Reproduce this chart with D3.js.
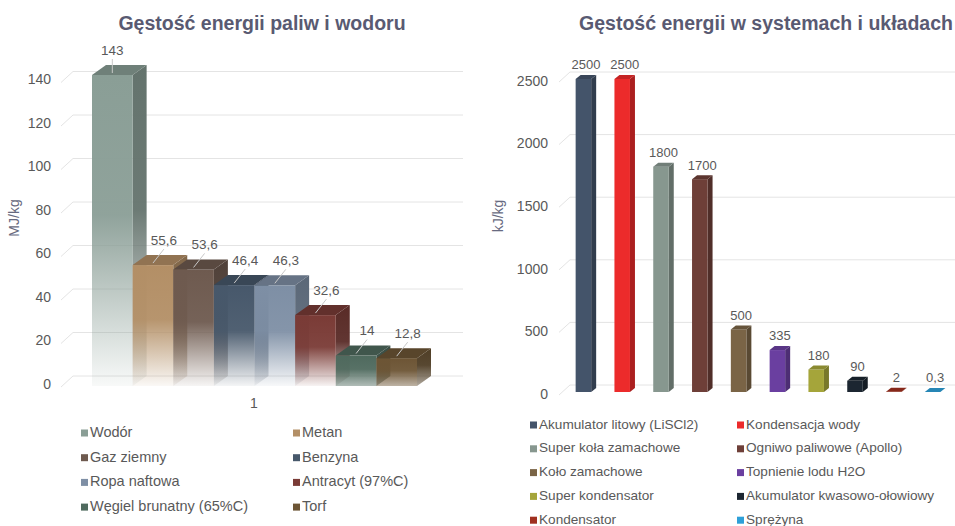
<!DOCTYPE html>
<html>
<head>
<meta charset="utf-8">
<script src="https://cdn.jsdelivr.net/npm/d3@7"></script>
<style>
body { margin: 0; background: #fff; }
svg text { font-family: 'Liberation Sans', Arial, sans-serif; }
</style>
</head>
<body>
<svg id="chartSVG"></svg>
<script>
// left chart: fuels (MJ/kg)
var fuelNames = ['Wodór', 'Metan', 'Gaz ziemny', 'Benzyna', 'Ropa naftowa', 'Antracyt (97%C)', 'Węgiel brunatny (65%C)', 'Torf']
var fuelValues = [143, 55.6, 53.6, 46.4, 46.3, 32.6, 14, 12.8]
var fuelColors = ['#8a9e96', '#b38f66', '#6e5a4f', '#47586b', '#7e8fa5', '#7a3b36', '#4f6a5e', '#6d5535']
var fuelTicks = [0, 20, 40, 60, 80, 100, 120, 140]
var fuelCategory = '1'

// right chart: systems (kJ/kg)
var systemNames = ['Akumulator litowy (LiSCl2)', 'Kondensacja wody', 'Super koła zamachowe', 'Ogniwo paliwowe (Apollo)',
    'Koło zamachowe', 'Topnienie lodu H2O', 'Super kondensator', 'Akumulator kwasowo-ołowiowy', 'Kondensator', 'Sprężyna']
var systemValues = [2500, 2500, 1800, 1700, 500, 335, 180, 90, 2, 0.3]
var systemColors = ['#44546a', '#ec2b2b', '#87978f', '#6e3f38', '#7a6446', '#6a3fa0', '#a5a53a', '#1c2631', '#a0301f', '#2ea0d8']
var systemTicks = [0, 500, 1000, 1500, 2000, 2500]

var width = 955, height = 526
var titleColor = '#595a72'
var textColor = '#595959'
var gridColor = '#e4e4e4'

function fmt(v) { return String(v).replace('.', ',') }

var svg = d3.select('#chartSVG').attr('width', width).attr('height', height)
var defs = svg.append('defs')

// ---------- left chart ----------
var leftLayer = svg.append('g')
var yLeft = d3.scaleLinear().domain([0, 143]).range([386, 75])
var xLeft = d3.scaleBand().domain(fuelNames).range([92, 417]).padding(0)
var leftDepth = { dx: 14, dy: 10 }

leftLayer.append('text')
    .attr('x', 262).attr('y', 30)
    .attr('text-anchor', 'middle')
    .style('font-size', '19.5px').style('font-weight', 'bold')
    .attr('fill', titleColor)
    .text('Gęstość energii paliw i wodoru')

fuelTicks.forEach(function (t) {
    var y = yLeft(t)
    leftLayer.append('line')
        .attr('x1', 73).attr('x2', 463).attr('y1', y - 10).attr('y2', y - 10)
        .attr('stroke', gridColor)
    leftLayer.append('line')
        .attr('x1', 61).attr('x2', 73).attr('y1', y + 1).attr('y2', y - 10)
        .attr('stroke', gridColor)
    leftLayer.append('text')
        .attr('x', 51).attr('y', y - 1)
        .attr('text-anchor', 'end').attr('dominant-baseline', 'middle')
        .style('font-size', '14px').attr('fill', textColor)
        .text(t)
})

leftLayer.append('text')
    .attr('transform', 'translate(19, 218) rotate(-90)')
    .attr('text-anchor', 'middle')
    .style('font-size', '14px').attr('fill', '#676a80')
    .text('MJ/kg')

leftLayer.append('text')
    .attr('x', 254).attr('y', 408)
    .attr('text-anchor', 'middle')
    .style('font-size', '14px').attr('fill', textColor)
    .text(fuelCategory)

var fadeEnd = d3.scaleLinear().domain([30, 70]).range([0.45, 0.06]).clamp(true)

fuelValues.forEach(function (v, i) {
    var x = xLeft(fuelNames[i])
    var w = xLeft.bandwidth()
    var top = yLeft(v)
    var bottom = yLeft(0)
    var h = bottom - top
    var base = d3.color(fuelColors[i])
    var grads = [['front', base], ['side', base.darker(0.9)]]
    grads.forEach(function (g) {
        var lg = defs.append('linearGradient')
            .attr('id', 'fade-' + g[0] + i)
            .attr('x1', 0).attr('y1', 0).attr('x2', 0).attr('y2', 1)
        lg.append('stop').attr('offset', 0).attr('stop-color', g[1]).attr('stop-opacity', 1)
        lg.append('stop').attr('offset', 0.45).attr('stop-color', g[1]).attr('stop-opacity', 0.95)
        lg.append('stop').attr('offset', 1).attr('stop-color', g[1]).attr('stop-opacity', fadeEnd(h))
    })
    var dx = leftDepth.dx, dy = leftDepth.dy
    leftLayer.append('path')
        .attr('d', 'M' + (x + w) + ',' + top + 'L' + (x + w + dx) + ',' + (top - dy) +
            'L' + (x + w + dx) + ',' + (bottom - dy) + 'L' + (x + w) + ',' + bottom + 'Z')
        .attr('fill', 'url(#fade-side' + i + ')')
    leftLayer.append('rect')
        .attr('x', x).attr('y', top).attr('width', w).attr('height', h)
        .attr('fill', 'url(#fade-front' + i + ')')
    leftLayer.append('path')
        .attr('d', 'M' + x + ',' + top + 'L' + (x + dx) + ',' + (top - dy) +
            'L' + (x + w + dx) + ',' + (top - dy) + 'L' + (x + w) + ',' + top + 'Z')
        .attr('fill', base.darker(0.6))
})

// value labels with leader lines
fuelValues.forEach(function (v, i) {
    var cx = xLeft(fuelNames[i]) + xLeft.bandwidth() / 2
    var top = yLeft(v)
    var off = i === 0 ? 0 : 11
    leftLayer.append('line')
        .attr('x1', cx).attr('y1', top - 2)
        .attr('x2', cx + off).attr('y2', top - 16)
        .attr('stroke', '#c8c8c8').attr('stroke-width', 1)
    leftLayer.append('text')
        .attr('x', cx + off).attr('y', top - 24)
        .attr('text-anchor', 'middle').attr('dominant-baseline', 'middle')
        .style('font-size', '13.5px').attr('fill', textColor)
        .text(fmt(v))
})

// left legend
var leftLegend = leftLayer.append('g')
fuelNames.forEach(function (n, i) {
    var col = i % 2, row = Math.floor(i / 2)
    var lx = col === 0 ? 81 : 293
    var ly = 433 + row * 24.7
    leftLegend.append('rect')
        .attr('x', lx).attr('y', ly - 3.5).attr('width', 7).attr('height', 7)
        .attr('fill', fuelColors[i])
    leftLegend.append('text')
        .attr('x', lx + 9).attr('y', ly)
        .attr('dominant-baseline', 'middle')
        .style('font-size', '14.5px').attr('fill', textColor)
        .text(n)
})

// ---------- right chart ----------
var rightLayer = svg.append('g')
var yRight = d3.scaleLinear().domain([0, 2500]).range([392, 79])
var xRight = d3.scaleBand().domain(systemNames).range([564, 952]).paddingInner(0.6).paddingOuter(0.3)
var rightDepth = { dx: 5, dy: 4 }

rightLayer.append('text')
    .attr('x', 766).attr('y', 30)
    .attr('text-anchor', 'middle')
    .style('font-size', '19.5px').style('font-weight', 'bold')
    .attr('fill', titleColor)
    .text('Gęstość energii w systemach i układach')

systemTicks.forEach(function (t) {
    var y = yRight(t)
    rightLayer.append('line')
        .attr('x1', 570).attr('x2', 955).attr('y1', y - 7).attr('y2', y - 7)
        .attr('stroke', gridColor)
    rightLayer.append('line')
        .attr('x1', 559).attr('x2', 570).attr('y1', y + 3).attr('y2', y - 7)
        .attr('stroke', gridColor)
    rightLayer.append('text')
        .attr('x', 548).attr('y', y + 3)
        .attr('text-anchor', 'end').attr('dominant-baseline', 'middle')
        .style('font-size', '14px').attr('fill', textColor)
        .text(t)
})

rightLayer.append('text')
    .attr('transform', 'translate(503, 216) rotate(-90)')
    .attr('text-anchor', 'middle')
    .style('font-size', '14px').attr('fill', '#676a80')
    .text('kJ/kg')

systemValues.forEach(function (v, i) {
    var x = xRight(systemNames[i])
    var w = xRight.bandwidth()
    var top = yRight(v)
    var bottom = yRight(0)
    var base = d3.color(systemColors[i])
    var dx = rightDepth.dx, dy = rightDepth.dy
    rightLayer.append('path')
        .attr('d', 'M' + (x + w) + ',' + top + 'L' + (x + w + dx) + ',' + (top - dy) +
            'L' + (x + w + dx) + ',' + (bottom - dy) + 'L' + (x + w) + ',' + bottom + 'Z')
        .attr('fill', base.darker(0.9))
    rightLayer.append('rect')
        .attr('x', x).attr('y', top).attr('width', w).attr('height', bottom - top)
        .attr('fill', base)
    rightLayer.append('path')
        .attr('d', 'M' + x + ',' + top + 'L' + (x + dx) + ',' + (top - dy) +
            'L' + (x + w + dx) + ',' + (top - dy) + 'L' + (x + w) + ',' + top + 'Z')
        .attr('fill', base.darker(0.5))
    rightLayer.append('text')
        .attr('x', x + (w + dx) / 2).attr('y', top - 13)
        .attr('text-anchor', 'middle').attr('dominant-baseline', 'middle')
        .style('font-size', '13px').attr('fill', textColor)
        .text(fmt(v))
})

// right legend
var rightLegend = rightLayer.append('g')
systemNames.forEach(function (n, i) {
    var col = i % 2, row = Math.floor(i / 2)
    var lx = col === 0 ? 530 : 737
    var ly = 425 + row * 23.8
    rightLegend.append('rect')
        .attr('x', lx).attr('y', ly - 3.5).attr('width', 7).attr('height', 7)
        .attr('fill', systemColors[i])
    rightLegend.append('text')
        .attr('x', lx + 9).attr('y', ly)
        .attr('dominant-baseline', 'middle')
        .style('font-size', '13.6px').attr('fill', textColor)
        .text(n)
})
</script>
</body>
</html>
